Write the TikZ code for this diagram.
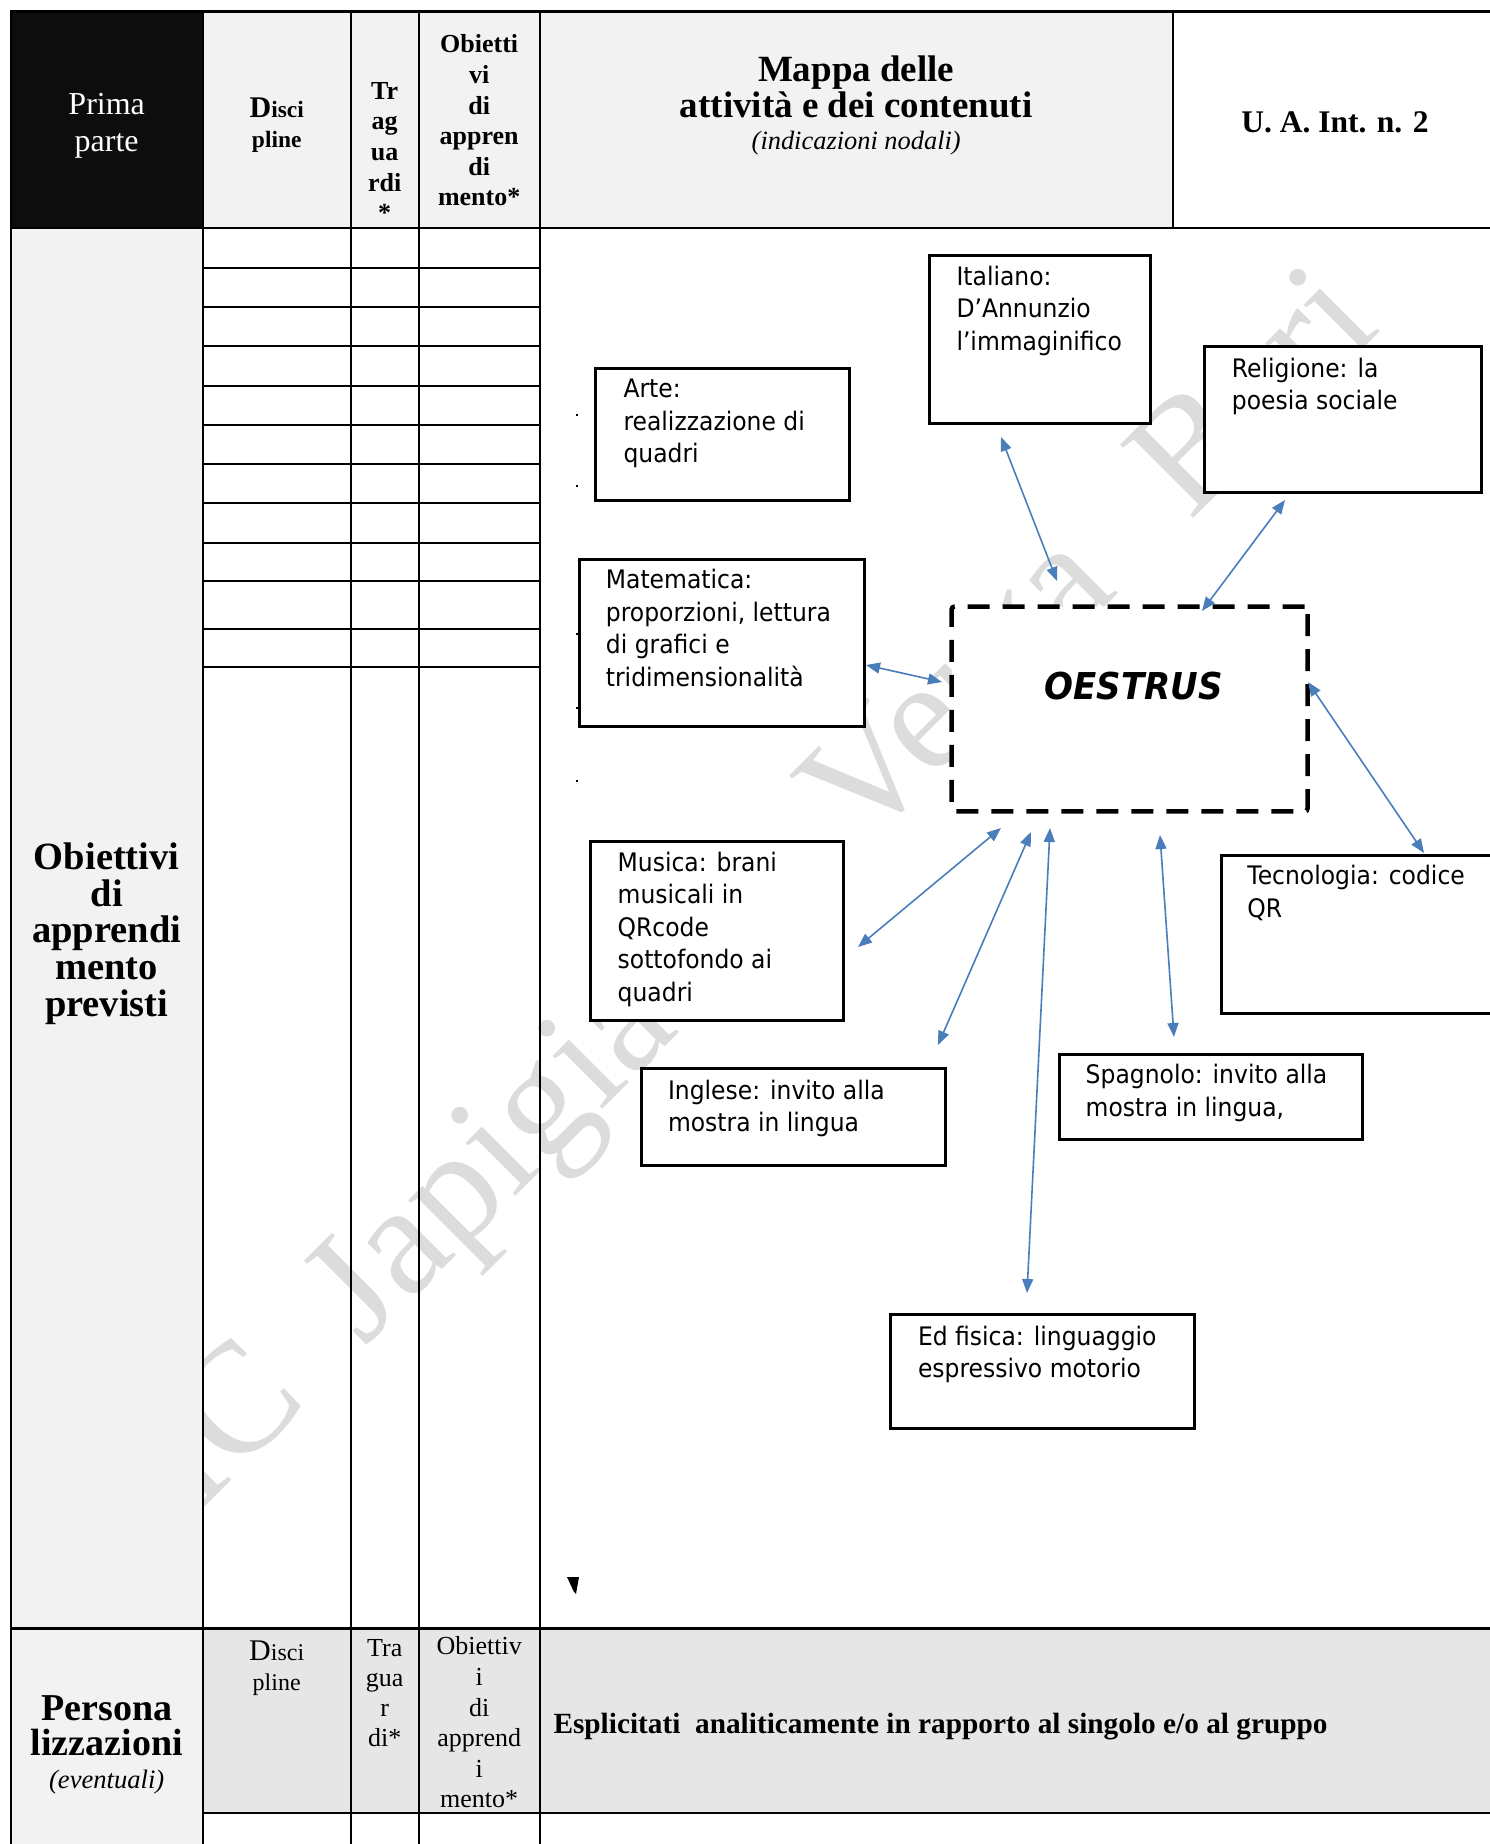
\documentclass[tikz,border=0pt]{standalone}
\usepackage{fontspec}
\setmainfont{Liberation Serif}
\newfontfamily\boxfont[FakeStretch=0.92]{DejaVu Sans}
\usetikzlibrary{arrows.meta,calc}
\definecolor{hdgray}{HTML}{F2F2F2}
\definecolor{rowgray}{HTML}{E6E6E6}
\definecolor{hdblack}{HTML}{0D0D0D}
\definecolor{arrowblue}{HTML}{4A7EBB}
\definecolor{wmgray}{HTML}{DCDCDC}
\tikzset{
  tl/.style={draw=black, line width=2.2pt, line cap=rect},
  tx/.style={align=center, inner sep=0pt},
  box/.style={draw=black, line width=3pt, fill=white, inner sep=0pt, outer sep=0pt, anchor=north west},
  btxt/.style={anchor=north west, inner sep=0pt, align=left, font=\boxfont\fontsize{25.5}{32.5}\selectfont},
  arr/.style={draw=arrowblue, line width=1.6pt, {Triangle[length=14pt,width=11pt]}-{Triangle[length=14pt,width=11pt]}},
  dotm/.style={fill=black, inner sep=0pt, minimum size=2.6pt},
  wmark/.style={font=\fontsize{158}{158}\selectfont, text=wmgray, rotate=45, anchor=base west, inner sep=0pt},
}
\begin{document}
\begin{tikzpicture}[x=1pt,y=-1pt]
\useasboundingbox (0,0) rectangle (1489,1844);
\fill[white] (0,0) rectangle (1489,1844);

% watermark
\node[wmark] (wm1) at (198.6,1513.4) {IC};
\node[wmark] (wm2) at (364.6,1347.4) {Japigia};
\node[wmark] (wm3) at (861.7,850.3) {Verga};
\node[wmark] (wm4) at (1190.5,521.6) {Bari};

% fills
\fill[hdblack] (10.7,11.5) rectangle (202.7,228);
\fill[hdgray] (202.7,11.5) rectangle (1172.6,228);
\fill[hdgray] (10.7,228) rectangle (202.7,1844);
\fill[rowgray] (202.7,1628.5) rectangle (1500,1813);

% table lines
\draw[tl] (10.7,11.5) -- (1500,11.5);
\draw[tl] (10.7,228) -- (1500,228);
\draw[tl] (10.7,1628.5) -- (1500,1628.5);
\draw[tl] (202.7,1813) -- (1500,1813);
\foreach \x in {10.7,202.7,350.7,418.7,539.7} \draw[tl] (\x,11.5) -- (\x,1850);
\draw[tl] (1172.6,11.5) -- (1172.6,228);
\foreach \y in {267.7,306.7,346,385.7,424.7,463.7,503,542.7,580.7,628.7,666.7}
  \draw[tl] (202.7,\y) -- (539.7,\y);

% header texts
\node[tx, text=white, font=\fontsize{32}{36.5}\selectfont] (prima) at (106.7,126) {Prima\\parte};
\node[tx, font=\bfseries\fontsize{23.4}{30.6}\selectfont] (disc) at (276.7,125) {{\fontsize{30}{30.6}\selectfont D}isci\\pline};
\node[tx, font=\bfseries\fontsize{26}{30.6}\selectfont] (trag) at (384.7,152) {Tr\\ag\\ua\\rdi\\*};
\node[tx, font=\bfseries\fontsize{26}{30.6}\selectfont] (obh) at (479.2,120.5) {Obietti\\vi\\di\\appren\\di\\mento*};
\node[tx, font=\bfseries\fontsize{37}{35.5}\selectfont] (mappa) at (856.2,87) {Mappa delle\\attività e dei contenuti};
\node[tx, font=\itshape\fontsize{26.4}{30}\selectfont] (mappb) at (856.2,143) {(indicazioni nodali)};
\node[tx, font=\bfseries\fontsize{31.5}{34}\selectfont] (ua) at (1335,122.5) {U. A. Int. n. 2};

% left column texts
\node[tx, font=\bfseries\fontsize{38.5}{36.7}\selectfont] (obl) at (106.7,933.5) {Obiettivi\\di\\apprendi\\mento\\previsti};
\node[tx, font=\bfseries\fontsize{38}{35.3}\selectfont] (pers) at (106.7,1726) {Persona\\lizzazioni};
\node[tx, font=\itshape\fontsize{26.6}{30}\selectfont] (event) at (106.7,1782) {(eventuali)};

% bottom row texts
\node[tx, font=\fontsize{24}{30}\selectfont] (disc2) at (276.7,1668) {{\fontsize{30}{30}\selectfont D}isci\\pline};
\node[tx, font=\fontsize{26}{30}\selectfont] (trag2) at (384.7,1693.4) {Tra\\gua\\r\\di*};
\node[tx, font=\fontsize{26}{30.6}\selectfont] (obh2) at (479.2,1722.4) {Obiettiv\\i\\di\\apprend\\i\\mento*};
\node[tx, anchor=west, font=\bfseries\fontsize{29.3}{32}\selectfont] (espl) at (553.3,1727) {Esplicitati\ \ analiticamente in rapporto al singolo e/o al gruppo};

% small dots
\node[dotm] (d1) at (577,415) {};
\node[dotm] (d2) at (577,486) {};
\node[dotm] (d3) at (577,634) {};
\node[dotm] (d4) at (577,708) {};
\node[dotm] (d5) at (577,781) {};
\fill (567,1577) -- (579,1577) -- (576,1594) -- (573.5,1591) -- cycle;

% diagram boxes
\node[box, minimum width=254pt, minimum height=131.4pt] (arte) at (595,368.6) {};
\node[box, minimum width=285pt, minimum height=166.8pt] (mat) at (579,559.6) {};
\node[box, minimum width=221.6pt, minimum height=167.7pt] (ital) at (929,255.3) {};
\node[box, minimum width=277.2pt, minimum height=146.2pt] (rel) at (1204.3,346.4) {};
\node[box, minimum width=356.1pt, minimum height=204.8pt, line width=4.5pt, dash pattern=on 22pt off 13pt, rounded corners=3pt] (oe) at (951.5,606.6) {};
\node[box, minimum width=278.3pt, minimum height=158pt] (tec) at (1221.7,855) {};
\node[box, minimum width=252.4pt, minimum height=178.5pt] (mus) at (590.8,841.5) {};
\node[box, minimum width=303.8pt, minimum height=96.9pt] (ingl) at (641.2,1068.3) {};
\node[box, minimum width=303.3pt, minimum height=85.2pt] (spa) at (1059.4,1054.5) {};
\node[box, minimum width=303.9pt, minimum height=113.9pt] (ed) at (890.6,1314.7) {};

% box texts
\node[btxt] (arteT) at ([shift={(28.3,6.3)}]arte.north west) {\strut Arte:\\realizzazione di\\quadri};
\node[btxt] (matT) at ([shift={(26.7,6.3)}]mat.north west) {\strut Matematica:\\proporzioni, lettura\\di grafici e\\tridimensionalità};
\node[btxt] (italT) at ([shift={(27.3,6.8)}]ital.north west) {\strut Italiano:\\D’Annunzio\\l’immaginifico};
\node[btxt] (relT) at ([shift={(27.4,7.9)}]rel.north west) {\strut Religione: la\\poesia sociale};
\node[btxt] (tecT) at ([shift={(25.5,6.9)}]tec.north west) {\strut Tecnologia: codice\\QR};
\node[btxt] (musT) at ([shift={(26.7,7)}]mus.north west) {\strut Musica: brani\\musicali in\\QRcode\\sottofondo ai\\quadri};
\node[btxt] (inglT) at ([shift={(26.6,7.9)}]ingl.north west) {\strut Inglese: invito alla\\mostra in lingua};
\node[btxt] (spaT) at ([shift={(26.1,6.1)}]spa.north west) {\strut Spagnolo: invito alla\\mostra in lingua,};
\node[btxt] (edT) at ([shift={(27.2,7.5)}]ed.north west) {\strut Ed fisica: linguaggio\\espressivo motorio};
\node[font=\boxfont\bfseries\itshape\fontsize{37}{40}\selectfont, inner sep=0pt] (oet) at (1133.7,686.5) {OESTRUS};

% arrows
\draw[arr] ([shift={(72,14)}]ital.south west) -- ([shift={(105.5,-25.6)}]oe.north west);
\draw[arr] ([shift={(80.7,7.4)}]rel.south west) -- ([shift={(250.5,4.4)}]oe.north west);
\draw[arr] ([shift={(2,105.4)}]mat.north east) -- ([shift={(-9.5,75.4)}]oe.north west);
\draw[arr] ([shift={(0.4,75.4)}]oe.north east) -- ([shift={(202.3,-2)}]tec.north west);
\draw[arr] ([shift={(49.5,16.6)}]oe.south west) -- ([shift={(14.8,105.5)}]mus.north east);
\draw[arr] ([shift={(79.5,20.6)}]oe.south west) -- ([shift={(296.8,-23.3)}]ingl.north west);
\draw[arr] ([shift={(98.5,16.6)}]oe.south west) -- ([shift={(136.4,-21.7)}]ed.north west);
\draw[arr] ([shift={(208.5,23.6)}]oe.south west) -- ([shift={(114.6,-17.5)}]spa.north west);
\end{tikzpicture}
\end{document}
